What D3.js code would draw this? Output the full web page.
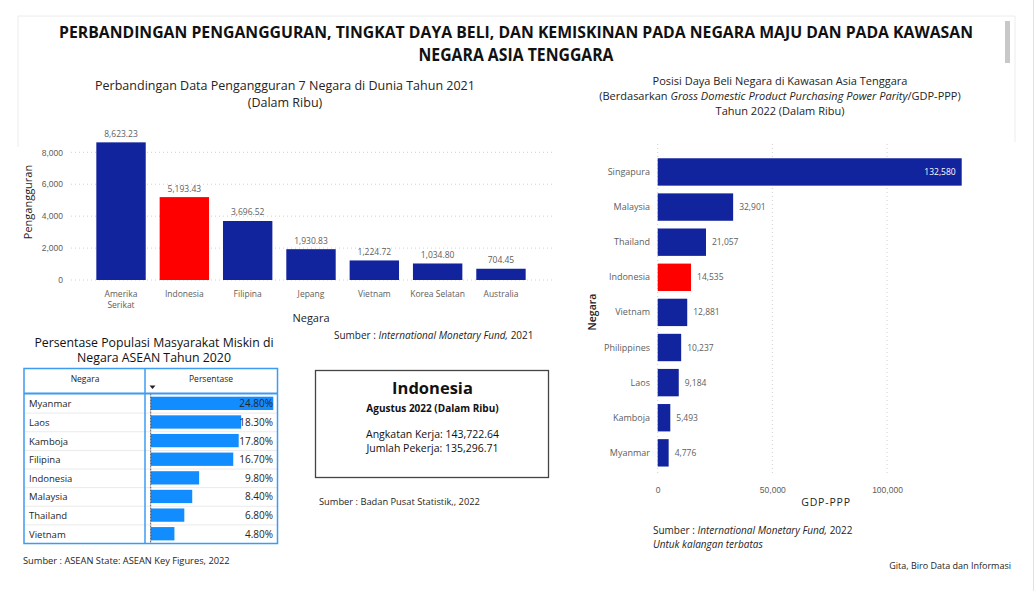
<!DOCTYPE html>
<html>
<head>
<meta charset="utf-8">
<script src="https://cdn.jsdelivr.net/npm/d3@7"></script>
<style>
  body { margin: 0; background: #ffffff; }
  svg { display: block; font-family: "Open Sans", "Noto Sans", sans-serif; }
</style>
</head>
<body>
<svg id="chart" width="1035" height="591"></svg>
<script>
// Pengangguran 7 negara 2021 (ribu)
const unempCountries = ["Amerika Serikat", "Indonesia", "Filipina", "Jepang", "Vietnam", "Korea Selatan", "Australia"];
const unempValues = [8623.23, 5193.43, 3696.52, 1930.83, 1224.72, 1034.80, 704.45];
const unempTicks = [0, 2000, 4000, 6000, 8000];

// GDP-PPP Asia Tenggara 2022
const gdpCountries = ["Singapura", "Malaysia", "Thailand", "Indonesia", "Vietnam", "Philippines", "Laos", "Kamboja", "Myanmar"];
const gdpValues = [132580, 32901, 21057, 14535, 12881, 10237, 9184, 5493, 4776];
const gdpTicks = [0, 50000, 100000];

// Persentase penduduk miskin ASEAN 2020
const povertyCountries = ["Myanmar", "Laos", "Kamboja", "Filipina", "Indonesia", "Malaysia", "Thailand", "Vietnam"];
const povertyValues = [24.8, 18.3, 17.8, 16.7, 9.8, 8.4, 6.8, 4.8];

// Ketenagakerjaan Indonesia Agustus 2022
const laborLabels = ["Angkatan Kerja", "Jumlah Pekerja"];
const laborValues = [143722.64, 135296.71];

const BLUE = "#12239E", RED = "#FF0000", TABLE_BLUE = "#3c9cf0", BAR_BLUE = "#118DFF";
const DARK = "#252423", GRAY = "#605E5C";

const svg = d3.select("#chart");
const fmt2 = d3.format(",.2f");
const fmt0 = d3.format(",");

// Card frame + scrollbar
svg.append("path")
    .attr("d", "M18,147 L18,16 L1015,16 L1015,142")
    .attr("fill", "none").attr("stroke", "#ececec").attr("stroke-width", 1);
svg.append("rect").attr("x", 1005).attr("y", 21).attr("width", 5).attr("height", 42)
    .attr("fill", "#c8c8c8");
svg.append("line").attr("x1", 1033.5).attr("x2", 1033.5).attr("y1", 0).attr("y2", 591)
    .attr("stroke", "#e2e2e2");

// Main title
const mainTitle = svg.append("text").attr("text-anchor", "middle")
    .attr("font-size", 15.5).attr("font-weight", 700).attr("fill", "#111");
mainTitle.append("tspan").attr("x", 516).attr("y", 38)
    .attr("textLength", 914).attr("lengthAdjust", "spacingAndGlyphs")
    .text("PERBANDINGAN PENGANGGURAN, TINGKAT DAYA BELI, DAN KEMISKINAN PADA NEGARA MAJU DAN PADA KAWASAN");
mainTitle.append("tspan").attr("x", 516).attr("y", 61)
    .attr("textLength", 195).attr("lengthAdjust", "spacingAndGlyphs")
    .attr("font-size", 17)
    .text("NEGARA ASIA TENGGARA");

// ---------------- Chart 1: vertical bars ----------------
{
    const x = d3.scaleBand().domain(unempCountries).range([71, 551]).paddingInner(0.22).paddingOuter(0.4);
    const y = d3.scaleLinear().domain([0, 8000]).range([280, 152.3]);

    const t = svg.append("text").attr("text-anchor", "middle").attr("font-size", 12.5).attr("fill", DARK);
    t.append("tspan").attr("x", 285).attr("y", 90).text("Perbandingan Data Pengangguran 7 Negara di Dunia Tahun 2021");
    t.append("tspan").attr("x", 285).attr("y", 107).text("(Dalam Ribu)");

    // gridlines
    svg.append("g").selectAll("line").data(unempTicks).join("line")
        .attr("x1", 71).attr("x2", 553)
        .attr("y1", d => y(d)).attr("y2", d => y(d))
        .attr("stroke", "#d0d0d0").attr("stroke-dasharray", "1,3");

    const yAxis = svg.append("g").attr("transform", "translate(66,0)")
        .call(d3.axisLeft(y).tickValues(unempTicks).tickSize(0).tickPadding(3).tickFormat(fmt0));
    yAxis.select(".domain").remove();
    yAxis.selectAll("text").attr("font-size", 8.5).attr("fill", GRAY).attr("font-family", null);

    svg.append("g").selectAll("rect").data(unempCountries).join("rect")
        .attr("x", d => x(d)).attr("width", x.bandwidth())
        .attr("y", (d, i) => y(unempValues[i])).attr("height", (d, i) => y(0) - y(unempValues[i]))
        .attr("fill", d => d === "Indonesia" ? RED : BLUE);

    svg.append("g").selectAll("text").data(unempCountries).join("text")
        .attr("x", d => x(d) + x.bandwidth() / 2)
        .attr("y", (d, i) => y(unempValues[i]) - 5.5)
        .attr("text-anchor", "middle").attr("font-size", 8.5).attr("fill", GRAY)
        .text((d, i) => fmt2(unempValues[i]));

    // category labels (two lines for "Amerika Serikat")
    const cat = svg.append("g").selectAll("text").data(unempCountries).join("text")
        .attr("text-anchor", "middle").attr("font-size", 8.5).attr("fill", GRAY);
    cat.each(function (d) {
        const words = d === "Amerika Serikat" ? ["Amerika", "Serikat"] : [d];
        const el = d3.select(this);
        words.forEach((w, k) => el.append("tspan")
            .attr("x", x(d) + x.bandwidth() / 2).attr("y", 297 + k * 11).text(w));
    });

    svg.append("text").attr("x", 311).attr("y", 322).attr("text-anchor", "middle")
        .attr("font-size", 11).attr("fill", DARK).text("Negara");
    svg.append("text").attr("transform", "translate(32,202) rotate(-90)").attr("text-anchor", "middle")
        .attr("font-size", 11).attr("fill", DARK).text("Pengangguran");

    const s = svg.append("text").attr("x", 334).attr("y", 339).attr("font-size", 10).attr("fill", DARK);
    s.append("tspan").text("Sumber :  ");
    s.append("tspan").attr("font-style", "italic").text("International Monetary Fund,");
    s.append("tspan").text(" 2021");
}

// ---------------- Chart 2: horizontal bars ----------------
{
    const x = d3.scaleLinear().domain([0, 100000]).range([657.7, 887]);
    const y = d3.scaleBand().domain(gdpCountries).range([154.4, 470.4]).paddingInner(0.22).paddingOuter(0.11);

    const t = svg.append("text").attr("text-anchor", "middle").attr("font-size", 11).attr("fill", DARK);
    t.append("tspan").attr("x", 780).attr("y", 85).text("Posisi Daya Beli Negara di Kawasan Asia Tenggara");
    const l2 = t.append("tspan").attr("x", 780).attr("y", 100);
    l2.append("tspan").text("(Berdasarkan ");
    l2.append("tspan").attr("font-style", "italic").text("Gross Domestic Product Purchasing Power Parity");
    l2.append("tspan").text("/GDP-PPP)");
    t.append("tspan").attr("x", 780).attr("y", 115).text("Tahun 2022 (Dalam Ribu)");

    svg.append("g").selectAll("line").data(gdpTicks).join("line")
        .attr("x1", d => x(d)).attr("x2", d => x(d))
        .attr("y1", 144).attr("y2", 473)
        .attr("stroke", "#d0d0d0").attr("stroke-dasharray", "1,3");

    const xAxis = svg.append("g").attr("transform", "translate(0,482)")
        .call(d3.axisBottom(x).tickValues(gdpTicks).tickSize(0).tickPadding(5).tickFormat(fmt0));
    xAxis.select(".domain").remove();
    xAxis.selectAll("text").attr("font-size", 8.5).attr("fill", GRAY).attr("font-family", null);

    svg.append("g").selectAll("rect").data(gdpCountries).join("rect")
        .attr("x", x(0)).attr("y", d => y(d))
        .attr("width", (d, i) => x(gdpValues[i]) - x(0)).attr("height", y.bandwidth())
        .attr("fill", d => d === "Indonesia" ? RED : BLUE);

    svg.append("g").selectAll("text").data(gdpCountries).join("text")
        .attr("y", d => y(d) + y.bandwidth() / 2 + 3)
        .attr("x", (d, i) => i === 0 ? x(gdpValues[i]) - 6 : x(gdpValues[i]) + 6)
        .attr("text-anchor", (d, i) => i === 0 ? "end" : "start")
        .attr("font-size", 8.5).attr("fill", (d, i) => i === 0 ? "#ffffff" : GRAY)
        .text((d, i) => fmt0(gdpValues[i]));

    svg.append("g").selectAll("text").data(gdpCountries).join("text")
        .attr("x", 650).attr("y", d => y(d) + y.bandwidth() / 2 + 3)
        .attr("text-anchor", "end").attr("font-size", 9).attr("fill", GRAY)
        .text(d => d);

    svg.append("text").attr("x", 826).attr("y", 506).attr("text-anchor", "middle")
        .attr("font-size", 10.5).attr("letter-spacing", 0.8).attr("fill", DARK).text("GDP-PPP");
    svg.append("text").attr("transform", "translate(596,312) rotate(-90)").attr("text-anchor", "middle")
        .attr("font-size", 10.5).attr("font-weight", 600).attr("fill", DARK).text("Negara");

    const s = svg.append("text").attr("font-size", 10).attr("fill", DARK);
    const s1 = s.append("tspan").attr("x", 653).attr("y", 534);
    s1.append("tspan").text("Sumber :  ");
    s1.append("tspan").attr("font-style", "italic").text("International Monetary Fund,");
    s1.append("tspan").text(" 2022");
    s.append("tspan").attr("x", 653).attr("y", 547.5).attr("font-style", "italic").text("Untuk kalangan terbatas");

    svg.append("text").attr("x", 1011).attr("y", 569).attr("text-anchor", "end")
        .attr("font-size", 9).attr("fill", DARK).text("Gita, Biro Data dan Informasi");
}

// ---------------- Table: poverty percentage ----------------
{
    const tx0 = 24, tx1 = 277.5, colX = 145, hy0 = 368.5, hy1 = 393.5;
    const rows = d3.scaleBand().domain(povertyCountries).range([hy1 + 1, 543.5]);
    const x = d3.scaleLinear().domain([0, 24.8]).range([150.7, 273.3]);

    const t = svg.append("text").attr("text-anchor", "middle").attr("font-size", 12.3).attr("fill", "#111");
    t.append("tspan").attr("x", 154).attr("y", 347).text("Persentase Populasi Masyarakat Miskin di");
    t.append("tspan").attr("x", 154).attr("y", 362).text("Negara ASEAN Tahun 2020");

    // row separators
    svg.append("g").selectAll("line").data(povertyCountries.slice(1)).join("line")
        .attr("x1", tx0).attr("x2", tx1)
        .attr("y1", d => rows(d)).attr("y2", d => rows(d))
        .attr("stroke", "#eaeaea");

    svg.append("g").selectAll("rect").data(povertyCountries).join("rect")
        .attr("x", x(0)).attr("y", d => rows(d) + 2.2)
        .attr("width", (d, i) => x(povertyValues[i]) - x(0)).attr("height", 13.3)
        .attr("fill", BAR_BLUE);

    svg.append("line").attr("x1", x(0)).attr("x2", x(0)).attr("y1", hy1).attr("y2", 543.5)
        .attr("stroke", "#333").attr("stroke-dasharray", "2,1").attr("stroke-width", 0.8);

    svg.append("g").selectAll("text").data(povertyCountries).join("text")
        .attr("x", 29).attr("y", d => rows(d) + rows.bandwidth() / 2 + 3.5)
        .attr("font-size", 9.5).attr("fill", DARK).text(d => d);

    svg.append("g").selectAll("text").data(povertyCountries).join("text")
        .attr("x", 273).attr("y", d => rows(d) + rows.bandwidth() / 2 + 3.5)
        .attr("text-anchor", "end").attr("font-size", 10).attr("fill", DARK)
        .text((d, i) => povertyValues[i].toFixed(2) + "%");

    // header
    svg.append("text").attr("x", 85).attr("y", 382).attr("text-anchor", "middle")
        .attr("font-size", 8.5).attr("fill", DARK).text("Negara");
    svg.append("text").attr("x", 211).attr("y", 382).attr("text-anchor", "middle")
        .attr("font-size", 8.5).attr("fill", DARK).text("Persentase");
    svg.append("path").attr("d", "M149.5,385.5 L155.5,385.5 L152.5,389 Z").attr("fill", "#222");

    // borders
    svg.append("rect").attr("x", tx0).attr("y", hy0).attr("width", tx1 - tx0).attr("height", 543.5 - hy0)
        .attr("fill", "none").attr("stroke", TABLE_BLUE).attr("stroke-width", 1.5);
    svg.append("line").attr("x1", tx0).attr("x2", tx1).attr("y1", hy1).attr("y2", hy1)
        .attr("stroke", TABLE_BLUE).attr("stroke-width", 2);
    svg.append("line").attr("x1", colX).attr("x2", colX).attr("y1", hy0).attr("y2", 543.5)
        .attr("stroke", TABLE_BLUE).attr("stroke-width", 1.5);

    svg.append("text").attr("x", 23).attr("y", 564).attr("font-size", 9.3).attr("fill", DARK)
        .text("Sumber : ASEAN State: ASEAN Key Figures, 2022");
}

// ---------------- Info box: Indonesia ----------------
{
    svg.append("rect").attr("x", 315.5).attr("y", 370.5).attr("width", 233).attr("height", 107)
        .attr("fill", "none").attr("stroke", "#444").attr("stroke-width", 1.3);
    svg.append("text").attr("x", 432.5).attr("y", 394).attr("text-anchor", "middle")
        .attr("font-size", 16.5).attr("font-weight", 700).attr("fill", "#111").text("Indonesia");
    svg.append("text").attr("x", 432.5).attr("y", 411.5).attr("text-anchor", "middle")
        .attr("font-size", 10).attr("font-weight", 700).attr("fill", "#111").text("Agustus 2022 (Dalam Ribu)");
    svg.append("g").selectAll("text").data(laborLabels).join("text")
        .attr("x", 432.5).attr("y", (d, i) => 437.5 + i * 14.5).attr("text-anchor", "middle")
        .attr("font-size", 10.5).attr("fill", "#111")
        .text((d, i) => d + ": " + fmt2(laborValues[i]));
    svg.append("text").attr("x", 319).attr("y", 505).attr("font-size", 9.3).attr("fill", DARK)
        .text("Sumber : Badan Pusat Statistik,, 2022");
}
</script>
</body>
</html>
